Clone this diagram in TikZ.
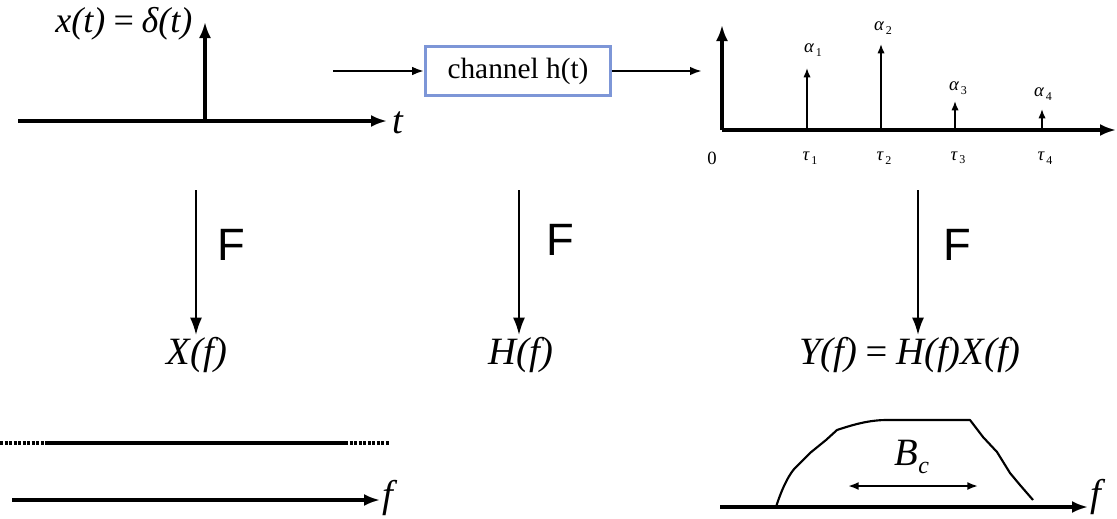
\documentclass[tikz,border=0pt]{standalone}
\usepackage{fontspec}
\setmainfont{Liberation Serif}
\newfontfamily\arialf{Liberation Sans}
\usetikzlibrary{arrows.meta}
\definecolor{boxblue}{RGB}{125,150,215}
\begin{document}
\begin{tikzpicture}[x=0.75pt,y=-0.75pt,
  axis/.style={line width=2.3pt,-{Latex[length=12pt,width=9pt]}},
  thin/.style={line width=1.7pt,-{Latex[length=9pt,width=6.5pt]}},
  stem/.style={line width=1.2pt,-{Latex[length=7pt,width=5.5pt]}},
  ftrans/.style={line width=1.6pt,-{Latex[length=13pt,width=9pt]}},
  flab/.style={font=\arialf\fontsize{34}{36}\selectfont},
  bigmath/.style={font=\fontsize{29}{31}\selectfont\itshape},
  small/.style={font=\fontsize{14}{15}\selectfont},
  box/.style={draw=boxblue, line width=1.8pt, minimum width=139pt, minimum height=37pt, inner sep=0pt, font=\fontsize{22}{24}\selectfont}]
\useasboundingbox (0,0) rectangle (1117,518);
% left time panel
\coordinate (la0) at (18,121);
\coordinate (la1) at (387,121);
\coordinate (lo) at (205,121);
\coordinate (lt) at (205,22);
\draw[axis] (la0) -- (la1);
\node[bigmath, anchor=west] (tlab) at (388,123) {t};
\draw[axis] (lo) -- (lt);
\node[bigmath, anchor=east, font=\fontsize{27}{29}\selectfont\itshape] (xlab) at (197,24) {x(t)\,=\,δ(t)};
% channel
\node[box] (ch) at (518,71) {channel h(t)};
\coordinate (inp) at (333,71);
\draw[thin] (inp) -- (ch.west);
\coordinate (outp) at (702,71);
\draw[thin] (ch.east) -- (outp);
% right time panel
\coordinate (ro) at (722,130);
\coordinate (rx) at (1116,130);
\coordinate (ry) at (722,25);
\draw[axis] (ro) -- (rx);
\draw[axis] (ro) -- (ry);
\node[small] (zero) at (712,158) {0};
\foreach \n/\x/\y/\ax/\ay in {1/807/68/810/50, 2/881/44/880/28, 3/955/101/955/88, 4/1042/109/1040/94}{
  \coordinate (b\n) at (\x,130);
  \coordinate (s\n) at (\x,\y);
  \draw[stem] (b\n) -- (s\n);
  \node[small] (tau\n) at (\x+3,158) {\itshape τ\raisebox{-0.4ex}{\fontsize{9}{10}\selectfont\upshape\,\n}};
  \node[small] (al\n) at (\ax+3,\ay) {\itshape α\raisebox{-0.4ex}{\fontsize{9}{10}\selectfont\upshape\,\n}};
}
% Fourier arrows
\foreach \i/\x/\fx/\fy in {1/196/231/245, 2/519/560/240, 3/918/957/245}{
  \coordinate (ft\i) at (\x,190);
  \coordinate (fb\i) at (\x,335);
  \draw[ftrans] (ft\i) -- (fb\i);
  \node[flab] (F\i) at (\fx,\fy) {F};
}
\node[bigmath] (Xf) at (197,355) {X(f)};
\node[bigmath] (Hf) at (521,355) {H(f)};
\node[bigmath] (Yf) at (910,355) {Y(f)\,=\,H(f)X(f)};
% bottom left spectrum
\coordinate (d0) at (0,443);
\coordinate (d1) at (48,443);
\coordinate (d2) at (345,443);
\coordinate (d3) at (390,443);
\draw[line width=2.5pt, dash pattern=on 2.4pt off 1pt] (d0) -- (d1);
\draw[line width=2.5pt] (d1) -- (d2);
\draw[line width=2.5pt, dash pattern=on 2.4pt off 1pt] (d2) -- (d3);
\coordinate (fa0) at (12,500);
\coordinate (fa1) at (380,500);
\draw[axis] (fa0) -- (fa1);
\node[bigmath, anchor=base west, inner sep=1pt] (flab1) at (381,507) {f};
% bottom right spectrum
\coordinate (ga0) at (720,507);
\coordinate (ga1) at (1088,507);
\draw[axis] (ga0) -- (ga1);
\node[bigmath, anchor=base west, inner sep=1pt] (flab2) at (1089,506) {f};
\draw[line width=1.6pt, line join=round] (776,507) .. controls (782,488) and (790,472) .. (797,466)
  -- (810,453) -- (826,440) -- (837,430) .. controls (855,424) and (870,420) .. (887,420)
  -- (970,420) -- (983,437) -- (997,452) -- (1010,473) -- (1020,485) -- (1033,500);
\coordinate (bc0) at (848,486);
\coordinate (bc1) at (978,486);
\draw[line width=1.5pt, {Latex[length=8pt,width=6pt]}-{Latex[length=8pt,width=6pt]}] (bc0) -- (bc1);
\node[bigmath] (Bc) at (912,457) {B\raisebox{-0.5ex}{\fontsize{18}{19}\selectfont c}};
\end{tikzpicture}
\end{document}
